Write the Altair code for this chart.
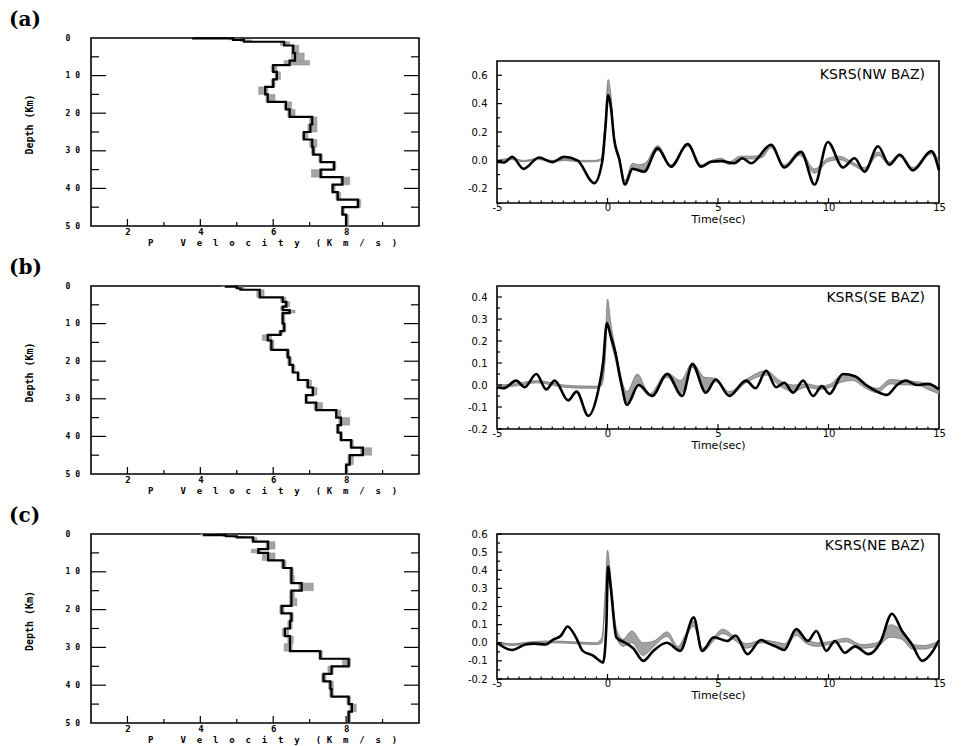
import altair as alt
import pandas as pd

MONO = "DejaVu Sans Mono"
SANS = "DejaVu Sans"
SERIF = "DejaVu Serif"
NB = "\u00a0"

PANEL_LABELS = ["(a)", "(b)", "(c)"]
STATION_LABELS = ["KSRS(NW BAZ)", "KSRS(SE BAZ)", "KSRS(NE BAZ)"]
VEL_TITLE = ("P" + NB * 5 + (NB * 2).join("Velocity") + NB * 3 + "(" + NB + (NB * 2).join("Km/s)"))
DEPTH_TITLE = "Depth (Km)"
TIME_TITLE = "Time(sec)"

# ---------------- velocity models (layer boundaries in km, P velocity in km/s) ----------------
A_z = [0, 0.1, 0.5, 1, 2, 4, 6, 7.2, 9, 11, 13, 15, 17, 19, 21, 23, 25, 27, 29, 31, 33, 35, 37, 39, 41, 43, 45, 47, 50]
A_v = [3.8, 4.9, 5.2, 6.3, 6.55, 6.6, 6.45, 6.0, 6.1, 6.0, 5.78, 5.85, 6.35, 6.45, 7.07, 7.02, 6.84, 7.07, 7.1, 7.3, 7.67, 7.3, 7.9, 7.63, 7.77, 8.33, 7.9, 8.0]
A_lo = [3.8, 4.8, 5.1, 6.2, 6.5, 6.5, 6.3, 5.95, 6.05, 5.95, 5.6, 5.8, 6.3, 6.4, 7.0, 6.95, 6.8, 7.0, 7.05, 7.25, 7.62, 7.05, 7.85, 7.6, 7.72, 8.28, 7.87, 7.97]
A_hi = [3.8, 5.1, 5.4, 6.45, 6.7, 6.85, 7.0, 6.1, 6.2, 6.05, 5.85, 6.05, 6.5, 6.6, 7.2, 7.2, 6.95, 7.2, 7.15, 7.35, 7.72, 7.35, 8.1, 7.7, 7.85, 8.4, 7.95, 8.07]

B_z = [0, 0.2, 0.6, 1.0, 3.0, 4.2, 5.5, 6.4, 7.2, 10, 12, 13, 14.5, 17, 19, 21, 23, 25, 27, 29, 31, 33, 35, 37, 39, 41, 43, 45, 47.5, 50]
B_v = [4.7, 5.0, 5.1, 5.63, 6.26, 6.36, 6.26, 6.45, 6.26, 6.3, 6.2, 5.85, 5.95, 6.4, 6.45, 6.54, 6.68, 6.95, 7.09, 6.9, 7.18, 7.73, 7.86, 7.77, 7.86, 8.14, 8.46, 8.1, 8.0]
B_lo = [4.6, 4.95, 5.05, 5.55, 6.2, 6.3, 6.2, 6.4, 6.22, 6.25, 6.15, 5.7, 5.9, 6.35, 6.4, 6.5, 6.65, 6.9, 7.05, 6.87, 7.12, 7.7, 7.8, 7.73, 7.82, 8.1, 8.4, 8.05, 7.97]
B_hi = [4.9, 5.2, 5.2, 5.75, 6.35, 6.45, 6.3, 6.6, 6.32, 6.35, 6.25, 5.95, 6.02, 6.45, 6.5, 6.6, 6.72, 7.05, 7.2, 6.95, 7.35, 7.85, 8.1, 7.82, 7.9, 8.2, 8.7, 8.2, 8.05]

C_z = [0, 0.3, 0.6, 0.9, 2, 4, 5, 7, 9, 11, 13, 15, 17, 19, 21, 23, 25, 27, 29, 31, 33, 35, 37, 39, 41, 43, 45, 47, 50]
C_v = [4.1, 4.7, 5.0, 5.45, 5.86, 5.59, 5.86, 6.28, 6.5, 6.5, 6.78, 6.5, 6.5, 6.23, 6.5, 6.46, 6.32, 6.46, 6.46, 7.29, 8.07, 7.6, 7.38, 7.57, 7.6, 8.07, 8.16, 8.07]
C_lo = [4.0, 4.6, 4.9, 5.4, 5.8, 5.4, 5.7, 6.22, 6.45, 6.45, 6.7, 6.45, 6.45, 6.18, 6.45, 6.4, 6.25, 6.4, 6.3, 7.25, 7.9, 7.5, 7.33, 7.52, 7.55, 8.02, 8.1, 8.03]
C_hi = [4.5, 4.9, 5.2, 5.55, 6.05, 5.65, 6.05, 6.35, 6.55, 6.58, 7.1, 6.58, 6.65, 6.3, 6.55, 6.52, 6.42, 6.55, 6.52, 7.35, 8.12, 7.65, 7.45, 7.65, 7.65, 8.12, 8.28, 8.12]

# ---------------- receiver functions ----------------
A_t = [-5, -4.68, -4.31, -3.8, -3.1, -2.5, -1.96, -1.36, -0.6, -0.23, -0.1, 0.03, 0.15, 0.3, 0.53, 0.79, 1.13, 1.66, 2.27, 2.87, 3.63, 4.23, 4.68, 5.14, 5.74, 6.1, 6.5, 7.4, 8.0, 8.76, 9.37, 9.97, 10.65, 11.18, 11.63, 12.24, 12.76, 13.22, 13.82, 14.65, 15]
A_obs = [-0.01, -0.015, 0.025, -0.06, 0.02, -0.012, 0.025, 0.0, -0.16, 0.0, 0.22, 0.46, 0.38, 0.15, 0.01, -0.17, -0.06, -0.08, 0.085, -0.045, 0.115, -0.045, -0.01, -0.005, -0.02, 0.015, -0.02, 0.11, -0.05, 0.06, -0.17, 0.13, -0.05, 0.015, -0.08, 0.1, -0.03, 0.04, -0.07, 0.065, -0.07]
A_ts = [-5, -4.3, -3.8, -3.1, -2.5, -1.9, -1.3, -0.6, -0.3, -0.12, 0.03, 0.15, 0.3, 0.53, 0.79, 1.13, 1.4, 1.7, 2.27, 2.87, 3.63, 4.23, 4.7, 5.14, 5.5, 6.0, 6.6, 7.0, 7.4, 8.0, 8.7, 9.37, 9.97, 10.5, 11.0, 11.63, 12.24, 12.76, 13.22, 13.82, 14.65, 15]
A_shi = [0.0, 0.015, 0.0, 0.015, 0.0, 0.01, 0.0, 0.0, 0.01, 0.25, 0.57, 0.47, 0.18, 0.03, -0.14, -0.02, -0.03, -0.02, 0.105, -0.03, 0.12, -0.03, 0.0, 0.015, -0.01, 0.03, 0.03, 0.04, 0.115, -0.03, 0.065, -0.06, 0.015, 0.03, -0.005, -0.05, 0.06, -0.01, 0.045, -0.05, 0.07, -0.01]
A_slo = [-0.01, 0.005, -0.01, 0.005, -0.01, 0.0, -0.01, -0.01, 0.0, 0.18, 0.45, 0.37, 0.13, 0.0, -0.17, -0.06, -0.06, -0.07, 0.07, -0.05, 0.1, -0.05, -0.015, 0.0, -0.03, 0.01, 0.01, 0.02, 0.09, -0.05, 0.035, -0.09, -0.01, 0.005, -0.025, -0.07, 0.035, -0.03, 0.025, -0.07, 0.045, -0.03]

B_t = [-5, -4.7, -4.13, -3.75, -3.22, -2.77, -2.39, -1.78, -1.4, -0.87, -0.41, -0.2, -0.03, 0.15, 0.35, 0.6, 0.88, 1.41, 2.02, 2.7, 3.38, 3.84, 4.45, 4.9, 5.51, 6.27, 6.7, 7.18, 7.63, 8.0, 8.4, 8.85, 9.3, 9.7, 10.05, 10.65, 11.2, 11.7, 12.2, 12.65, 13.1, 13.5, 14.0, 14.5, 15]
B_obs = [-0.01, -0.015, 0.02, -0.01, 0.05, -0.02, 0.02, -0.07, -0.03, -0.14, -0.02, 0.1, 0.28, 0.22, 0.15, 0.02, -0.09, 0.0, -0.05, 0.05, -0.05, 0.095, -0.035, 0.025, -0.05, 0.02, -0.015, 0.065, -0.01, 0.01, -0.035, 0.02, -0.05, -0.005, -0.04, 0.05, 0.04, 0.0, -0.03, -0.045, 0.0, 0.02, 0.0, 0.005, -0.02]
B_ts = [-5, -4.2, -3.2, -2.0, -1.0, -0.5, -0.25, -0.1, 0.0, 0.15, 0.35, 0.6, 0.88, 1.35, 1.9, 2.7, 3.3, 3.84, 4.4, 4.9, 5.5, 6.27, 7.18, 7.8, 8.4, 9.0, 9.6, 10.1, 10.65, 11.1, 11.6, 12.2, 12.8, 13.4, 14.0, 14.5, 15]
B_shi = [0.0, 0.005, 0.02, 0.0, -0.005, -0.005, 0.03, 0.2, 0.39, 0.28, 0.17, 0.04, -0.03, 0.05, -0.04, 0.055, 0.02, 0.1, 0.035, 0.03, -0.03, 0.025, 0.065, 0.02, 0.0, 0.005, -0.005, 0.005, 0.05, 0.045, 0.01, -0.015, 0.025, 0.02, 0.015, 0.005, -0.02]
B_slo = [-0.01, -0.005, 0.01, -0.01, -0.015, -0.015, 0.0, 0.12, 0.29, 0.2, 0.12, 0.0, -0.08, 0.0, -0.05, 0.035, -0.04, 0.08, -0.03, 0.015, -0.045, 0.01, 0.045, -0.005, -0.03, -0.01, -0.02, -0.01, 0.015, 0.02, -0.01, -0.035, 0.005, 0.0, 0.0, -0.02, -0.04]

C_t = [-5, -4.32, -3.71, -3.3, -2.79, -2.49, -2.1, -1.81, -1.43, -1.12, -0.67, -0.35, -0.2, -0.05, 0.02, 0.15, 0.4, 0.8, 1.16, 1.62, 2.07, 2.68, 3.29, 3.9, 4.28, 4.81, 5.42, 5.8, 6.33, 6.94, 7.3, 7.6, 8.0, 8.54, 9.07, 9.45, 9.9, 10.29, 10.74, 11.2, 11.81, 12.34, 12.87, 13.33, 13.78, 14.24, 14.7, 15]
C_obs = [0.0, -0.04, -0.01, -0.005, -0.01, 0.015, 0.04, 0.09, 0.03, -0.045, -0.07, -0.1, -0.11, 0.1, 0.42, 0.3, 0.03, 0.0, -0.03, -0.1, -0.045, 0.0, -0.045, 0.14, -0.045, 0.03, 0.01, 0.04, -0.063, 0.015, -0.005, -0.02, -0.04, 0.075, 0.01, 0.065, -0.045, 0.01, -0.055, -0.02, -0.063, 0.0, 0.16, 0.065, -0.01, -0.1, -0.05, 0.015]
C_ts = [-5, -4.3, -3.5, -2.5, -1.5, -0.5, -0.25, -0.1, 0.0, 0.15, 0.4, 0.7, 1.1, 1.6, 2.1, 2.7, 3.2, 3.5, 3.9, 4.3, 4.8, 5.2, 5.8, 6.3, 7.0, 7.6, 8.0, 8.54, 9.0, 9.5, 10.0, 10.8, 11.5, 12.2, 12.8, 13.3, 13.8, 14.3, 15]
C_shi = [0.005, -0.005, 0.005, 0.01, 0.005, 0.0, 0.03, 0.3, 0.51, 0.36, 0.08, 0.02, 0.065, 0.0, 0.01, 0.06, -0.02, 0.04, 0.12, -0.03, 0.03, 0.075, 0.03, -0.005, 0.015, 0.005, -0.005, 0.065, 0.02, 0.0, 0.005, 0.025, -0.01, 0.0, 0.1, 0.07, -0.01, -0.015, 0.01]
C_slo = [-0.005, -0.015, -0.005, 0.0, -0.005, -0.01, 0.0, 0.22, 0.41, 0.28, 0.03, -0.02, 0.0, -0.07, -0.02, 0.035, -0.045, 0.02, 0.09, -0.05, 0.01, 0.05, 0.01, -0.03, 0.0, -0.015, -0.03, 0.04, -0.005, -0.02, -0.01, 0.005, -0.03, -0.02, 0.03, 0.02, -0.035, -0.035, -0.01]

# ---------------- ticks ----------------
VEL_TICKS = [2, 4, 6, 8]
VEL_MINOR = [3, 5, 7, 9]
DEPTH_TICKS = [0, 10, 20, 30, 40, 50]
DEPTH_MAJOR = [10, 20, 30, 40]
DEPTH_MINOR = [5, 15, 25, 35, 45]
TIME_TICKS = [-5, 0, 5, 10, 15]
TIME_MAJOR = [0, 5, 10]
TIME_MINOR = [k * 0.5 for k in range(-9, 30) if k % 10 != 0]
A_AMP = [-0.2, 0.0, 0.2, 0.4, 0.6]
A_AMP_MINOR = [-0.1, 0.1, 0.3, 0.5]
B_AMP = [-0.2, -0.1, 0.0, 0.1, 0.2, 0.3, 0.4]
B_AMP_MINOR = [-0.15, -0.05, 0.05, 0.15, 0.25, 0.35]
C_AMP = [-0.2, -0.1, 0.0, 0.1, 0.2, 0.3, 0.4, 0.5, 0.6]
C_AMP_MINOR = [-0.15, -0.05, 0.05, 0.15, 0.25, 0.35, 0.45, 0.55]

PW = 328
WW = 442


def hrule(vals, field, scale, axis, x0, x1):
    return alt.Chart(pd.DataFrame({field: vals})).mark_rule(color="black", strokeWidth=1.2).encode(
        y=alt.Y(f"{field}:Q", scale=scale, axis=axis), x=alt.value(x0), x2=alt.value(x1))


def vrule(vals, field, scale, axis, y0, y1):
    return alt.Chart(pd.DataFrame({field: vals})).mark_rule(color="black", strokeWidth=1.2).encode(
        x=alt.X(f"{field}:Q", scale=scale, axis=axis), y=alt.value(y0), y2=alt.value(y1))


def profile(z, v, lo, hi, label, h):
    rect_df = pd.DataFrame({"top": z[:-1], "bot": z[1:], "lo": lo, "hi": hi})
    pts = []
    for i, vv in enumerate(v):
        pts.append({"i": 2 * i, "v": vv, "d": z[i]})
        pts.append({"i": 2 * i + 1, "v": vv, "d": z[i + 1]})
    line_df = pd.DataFrame(pts)
    xs = alt.Scale(domain=[1, 10], nice=False, zero=False)
    ys = alt.Scale(domain=[0, 50], reverse=True, nice=False, zero=False)
    xax = alt.Axis(values=VEL_TICKS, ticks=False, tickSize=0, domain=False, grid=False,
                   labelFont=MONO, labelFontSize=9, labelFontWeight="bold", labelPadding=1,
                   labelFlush=False, labelColor="black", title=VEL_TITLE, titleFont=MONO,
                   titleFontSize=9, titleFontWeight="bold", titleColor="black",
                   titleX=PW / 2 + 17, titleY=16, titleBaseline="middle", titleAlign="center")
    yax = alt.Axis(values=DEPTH_TICKS, ticks=False, tickSize=0, domain=False, grid=False,
                   labelFont=MONO, labelFontSize=8, labelFontWeight="bold", labelAlign="left",
                   labelPadding=26, labelOverlap=False, labelColor="black",
                   labelExpr="datum.value >= 10 ? floor(datum.value / 10) + ' ' + (datum.value % 10) : datum.label",
                   title=DEPTH_TITLE, titleFont=MONO, titleFontSize=10, titleFontWeight="bold",
                   titleColor="black", titlePadding=31, titleY=h / 2 - 8)
    rects = alt.Chart(rect_df).mark_rect(fill="#a4a4a4", stroke="#8a8a8a", strokeWidth=0.5).encode(
        x=alt.X("lo:Q", scale=xs, axis=xax), x2="hi:Q",
        y=alt.Y("top:Q", scale=ys, axis=yax), y2="bot:Q")
    line = alt.Chart(line_df).mark_line(color="black", strokeWidth=2.2).encode(
        x=alt.X("v:Q", scale=xs, axis=xax), y=alt.Y("d:Q", scale=ys, axis=yax), order="i:Q")
    txt = alt.Chart(pd.DataFrame({"t": [label]})).mark_text(
        font=SERIF, fontWeight="bold", fontSize=20, align="left", baseline="middle").encode(
        x=alt.value(-82), y=alt.value(-18), text="t:N")
    layers = [rects, line,
              hrule(DEPTH_MAJOR, "d", ys, yax, 0, 15), hrule(DEPTH_MINOR, "d", ys, yax, 0, 8),
              hrule(DEPTH_MAJOR, "d", ys, yax, PW, PW - 15), hrule(DEPTH_MINOR, "d", ys, yax, PW, PW - 8),
              vrule(VEL_TICKS, "v", xs, xax, h, h - 7), vrule(VEL_MINOR, "v", xs, xax, h, h - 4),
              txt]
    return alt.layer(*layers).properties(width=PW, height=h)


def wave(t_obs, obs, t_syn, lo, hi, ydom, yticks, yminor, station, h, ty):
    obs_df = pd.DataFrame({"t": t_obs, "a": obs})
    syn_df = pd.DataFrame({"t": t_syn, "lo": lo, "hi": hi})
    xs = alt.Scale(domain=[-5, 15], nice=False, zero=False)
    ys = alt.Scale(domain=ydom, nice=False, zero=False)
    xax = alt.Axis(values=TIME_TICKS, ticks=False, tickSize=0, domain=False, grid=False,
                   labelFont=SANS, labelFontSize=10, labelPadding=-1, labelFlush=False,
                   labelOverlap=False, labelColor="black",
                   labelExpr="(datum.value < 0 ? '-' : '') + abs(datum.value)",
                   title=TIME_TITLE, titleFont=SANS, titleFontSize=11, titleFontWeight="normal",
                   titleColor="black", titleY=16, titleBaseline="middle")
    yax = alt.Axis(values=yticks, ticks=False, tickSize=0, domain=False, grid=False,
                   labelFont=SANS, labelFontSize=10, labelPadding=10, labelOverlap=False,
                   labelColor="black",
                   labelExpr="(datum.value < 0 ? '-' : '') + format(abs(datum.value), '.1f')",
                   title=None)
    band = alt.Chart(syn_df).mark_area(interpolate="monotone", fill="#a2a2a2", stroke="#6a6a6a",
                                       strokeWidth=0.7).encode(
        x=alt.X("t:Q", scale=xs, axis=xax), y=alt.Y("lo:Q", scale=ys, axis=yax), y2="hi:Q")
    line = alt.Chart(obs_df).mark_line(interpolate="monotone", color="black", strokeWidth=2.6).encode(
        x=alt.X("t:Q", scale=xs, axis=xax), y=alt.Y("a:Q", scale=ys, axis=yax))
    txt = alt.Chart(pd.DataFrame({"s": [station]})).mark_text(
        font=SANS, fontSize=14, align="right", baseline="middle").encode(
        x=alt.value(WW - 14), y=alt.value(ty), text="s:N")
    layers = [band, line,
              hrule(yticks, "a", ys, yax, 0, 5), hrule(yminor, "a", ys, yax, 0, 3),
              vrule(TIME_MAJOR, "t", xs, xax, h, h - 5), vrule(TIME_MINOR, "t", xs, xax, h, h - 2.5),
              txt]
    return alt.layer(*layers).properties(width=WW, height=h)


pA = profile(A_z, A_v, A_lo, A_hi, PANEL_LABELS[0], 188)
pB = profile(B_z, B_v, B_lo, B_hi, PANEL_LABELS[1], 188)
pC = profile(C_z, C_v, C_lo, C_hi, PANEL_LABELS[2], 189)
wA = wave(A_t, A_obs, A_ts, A_slo, A_shi, [-0.3, 0.7], A_AMP, A_AMP_MINOR, STATION_LABELS[0], 142, 14)
wB = wave(B_t, B_obs, B_ts, B_slo, B_shi, [-0.2, 0.45], B_AMP, B_AMP_MINOR, STATION_LABELS[1], 143, 12)
wC = wave(C_t, C_obs, C_ts, C_slo, C_shi, [-0.2, 0.6], C_AMP, C_AMP_MINOR, STATION_LABELS[2], 145, 12)

chart = alt.concat(pA, wA, pB, wB, pC, wC, columns=2, spacing={"row": 60, "column": 78},
                   bounds="flush", center=True).properties(
    padding={"left": 0, "top": 1, "right": 4, "bottom": 4}
).configure_view(stroke="black", strokeWidth=1.6)

chart.save("out.html", embed_options={"renderer": "svg", "actions": False})
